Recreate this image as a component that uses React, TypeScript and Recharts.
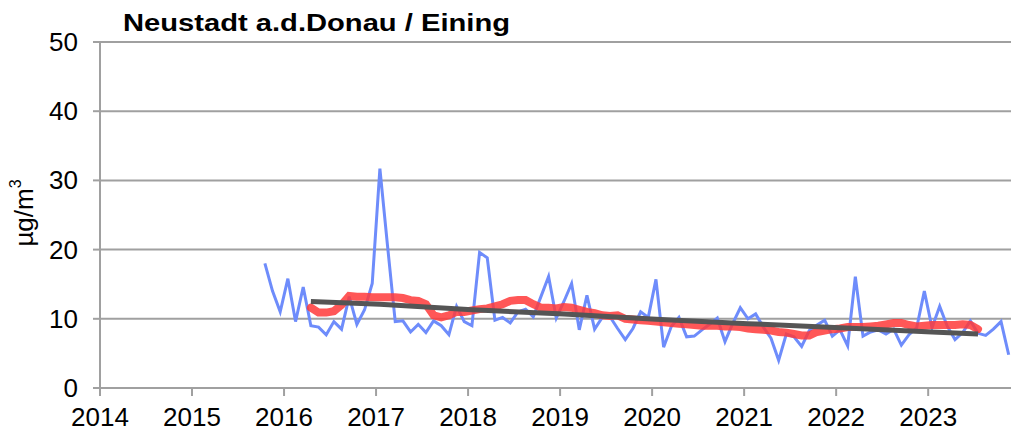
import { LineChart, Line, XAxis, YAxis, CartesianGrid } from 'recharts';

const title = 'Neustadt a.d.Donau / Eining';
const yTicks = [0, 10, 20, 30, 40, 50];
const xTicks = [2014, 2015, 2016, 2017, 2018, 2019, 2020, 2021, 2022, 2023];

// Monatsmittel, ab Oktober 2015
const monthlyStart = '2015-10';
const monthly = [
  18.0, 14.0, 11.0,
  15.8, 9.6, 14.6, 9.0, 8.8, 7.7, 9.6, 8.5, 13.2, 9.2, 11.3, 15.1,
  31.7, 20.5, 9.6, 9.7, 8.1, 9.2, 8.0, 9.7, 9.0, 7.7, 11.8, 9.6,
  9.0, 19.6, 18.8, 9.8, 10.2, 9.4, 11.0, 11.4, 10.3, 13.2, 16.1, 10.1,
  12.5, 15.1, 8.4, 13.4, 8.5, 10.2, 10.3, 8.6, 7.0, 8.6, 11.0, 10.2,
  15.7, 5.9, 8.9, 10.2, 7.4, 7.5, 8.4, 9.2, 10.1, 6.7, 9.3, 11.6,
  10.0, 10.7, 8.8, 7.2, 4.0, 7.8, 7.4, 6.0, 8.3, 9.1, 9.8, 7.5,
  8.4, 6.1, 16.1, 7.5, 8.1, 8.4, 7.8, 8.5, 6.2, 7.7, 8.7, 14.0,
  8.7, 11.8, 8.9, 7.0, 8.0, 9.7, 7.9, 7.6, 8.5, 9.6, 4.8,
];

// gleitendes Mittel, ab April 2016
const movingStart = '2016-04';
const moving = [
  11.6, 10.9, 10.9, 11.1, 12.0, 13.3, 13.2, 13.2, 13.1,
  13.1, 13.1, 13.1, 13.0, 12.7, 12.6, 12.1, 10.5, 10.2, 10.5, 11.0, 11.0,
  11.2, 11.4, 11.5, 11.8, 12.1, 12.6, 12.7, 12.7, 12.1, 11.6, 11.6, 11.5,
  11.7, 11.6, 11.3, 11.0, 10.8, 10.5, 10.4, 10.5, 10.0, 9.9, 9.8, 9.7,
  9.6, 9.5, 9.4, 9.3, 9.2, 9.1, 9.0, 9.0, 9.0, 8.9, 8.9, 8.8,
  8.6, 8.5, 8.4, 8.3, 8.1, 8.0, 7.8, 7.6, 7.6, 8.1, 8.3, 8.5,
  8.6, 8.8, 8.8, 8.8, 8.9, 9.0, 9.2, 9.4, 9.4, 9.1, 8.9, 9.0,
  9.1, 9.1, 9.1, 9.1, 9.2, 9.1, 8.5,
];

// Trend
const trendMonths = ['2016-04', '2017-01', '2018-01', '2019-01', '2020-01', '2021-01', '2022-01', '2023-01', '2023-07'];
const trendValues = [12.5, 12.1, 11.3, 10.7, 9.95, 9.3, 8.7, 8.1, 7.8];

const monthIndex = (s: string) => {
  const [y, m] = s.split('-').map(Number);
  return (y - 2014) * 12 + m - 1;
};

const first = monthIndex(monthlyStart);
const movingFirst = monthIndex(movingStart);

const data = monthly.map((v, k) => {
  const idx = first + k;
  const mi = idx - movingFirst;
  const ti = trendMonths.findIndex((s) => monthIndex(s) === idx);
  return {
    t: 2014 + (idx + 0.5) / 12,
    mean: v,
    avg: mi >= 0 && mi < moving.length ? moving[mi] : null,
    trend: ti >= 0 ? trendValues[ti] : null,
  };
});

const font = '"Liberation Sans", Arial, sans-serif';

const YTick = (props: any) => {
  const { x, y, payload } = props;
  return (
    <text x={x} y={y} dy={9} textAnchor="end" fontSize={26} fontFamily={font} fill="#000">
      {payload.value}
    </text>
  );
};

const XTick = (props: any) => {
  const { x, y, payload } = props;
  return (
    <text x={x} y={y} dy={28} textAnchor="middle" fontSize={26} fontFamily={font} fill="#000">
      {payload.value}
    </text>
  );
};

export default function App() {
  return (
    <div style={{ position: 'absolute', left: 0, top: 0, width: 1011, height: 437, background: '#fff' }}>
      <LineChart width={1011} height={437} data={data} margin={{ top: 42, right: 0, bottom: 0, left: 0 }}>
        <CartesianGrid vertical={false} stroke="#a0a0a0" strokeWidth={2} />
        <XAxis
          dataKey="t"
          type="number"
          domain={[2014, 2023.9]}
          ticks={xTicks}
          interval={0}
          height={49}
          tickSize={8}
          tickMargin={2}
          axisLine={{ stroke: '#a0a0a0', strokeWidth: 2 }}
          tickLine={{ stroke: '#a0a0a0', strokeWidth: 2 }}
          tick={<XTick />}
        />
        <YAxis
          domain={[0, 50]}
          ticks={yTicks}
          interval={0}
          width={100}
          tickSize={7}
          tickMargin={15}
          axisLine={{ stroke: '#a0a0a0', strokeWidth: 2 }}
          tickLine={{ stroke: '#a0a0a0', strokeWidth: 2 }}
          tick={<YTick />}
        />
        <Line dataKey="mean" type="linear" stroke="#6e8cfb" strokeWidth={3} dot={false} isAnimationActive={false} />
        <Line
          dataKey="avg"
          type="linear"
          stroke="#ff3a3a"
          strokeOpacity={0.85}
          strokeWidth={8}
          strokeLinecap="round"
          dot={false}
          isAnimationActive={false}
        />
        <Line dataKey="trend" type="linear" stroke="#555555" strokeWidth={5} dot={false} connectNulls isAnimationActive={false} />
      </LineChart>
      <svg width={1011} height={437} style={{ position: 'absolute', left: 0, top: 0, pointerEvents: 'none' }}>
        <text x={123} y={31} fontSize={23} fontWeight="bold" fontFamily={font} textLength={387} lengthAdjust="spacingAndGlyphs">
          {title}
        </text>
        <text transform="translate(33,213) rotate(-90)" textAnchor="middle" fontSize={26} fontFamily={font}>
          µg/m<tspan dy={-12} fontSize={16}>3</tspan>
        </text>
      </svg>
    </div>
  );
}
